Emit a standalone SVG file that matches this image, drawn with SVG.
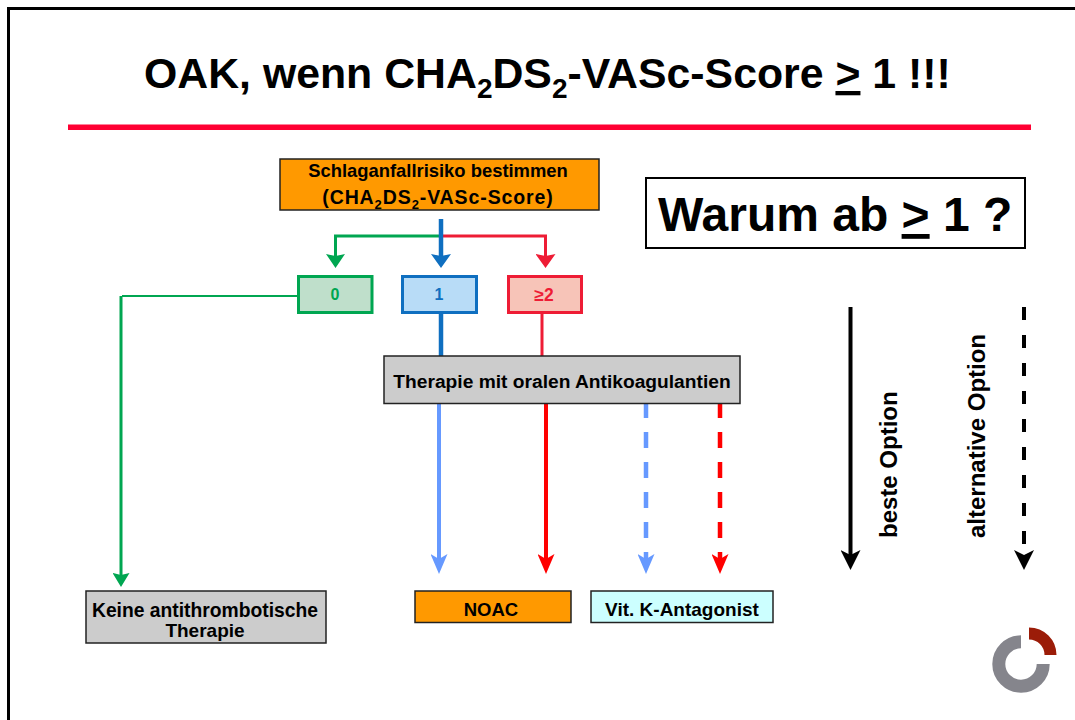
<svg xmlns="http://www.w3.org/2000/svg" width="1075" height="720" viewBox="0 0 1075 720">
<style>
text{font-family:"Liberation Sans",Arial,sans-serif;font-weight:700;fill:#000}
.m{text-anchor:middle}
.box{stroke:#222;stroke-width:1.5}
.l{fill:none;stroke-width:3}
.opt{font-size:24px}
</style>
<defs>
<path id="hd" d="M0 0L20 10L0 20L5 10Z"/>
<path id="hs" d="M0 0L20 10L0 20L3 10Z"/>
<marker id="hG1" viewBox="0 0 20 20" preserveAspectRatio="none" refX="10" refY="10" markerWidth="14" markerHeight="19" markerUnits="userSpaceOnUse" orient="auto"><use href="#hs" fill="#00a651"/></marker>
<marker id="hG2" viewBox="0 0 20 20" preserveAspectRatio="none" refX="10" refY="10" markerWidth="14" markerHeight="17" markerUnits="userSpaceOnUse" orient="auto"><use href="#hs" fill="#00a651"/></marker>
<marker id="hB" viewBox="0 0 20 20" preserveAspectRatio="none" refX="10" refY="10" markerWidth="14" markerHeight="20" markerUnits="userSpaceOnUse" orient="auto"><use href="#hs" fill="#0f6fc0"/></marker>
<marker id="hR" viewBox="0 0 20 20" preserveAspectRatio="none" refX="10" refY="10" markerWidth="14" markerHeight="20" markerUnits="userSpaceOnUse" orient="auto"><use href="#hs" fill="#ee1c35"/></marker>
<marker id="hL" viewBox="0 0 20 20" preserveAspectRatio="none" refX="10" refY="10" markerWidth="20" markerHeight="17" markerUnits="userSpaceOnUse" orient="auto"><use href="#hd" fill="#6699ff"/></marker>
<marker id="hP" viewBox="0 0 20 20" preserveAspectRatio="none" refX="10" refY="10" markerWidth="20" markerHeight="17" markerUnits="userSpaceOnUse" orient="auto"><use href="#hd" fill="#ff0000"/></marker>
<marker id="hK" viewBox="0 0 20 20" preserveAspectRatio="none" refX="10" refY="10" markerWidth="20" markerHeight="20" markerUnits="userSpaceOnUse" orient="auto"><use href="#hd" fill="#000"/></marker>
</defs>
<rect width="1075" height="720" fill="#fff"/>
<path d="M8.500 720V8.500H1075" fill="none" stroke="#000" stroke-width="3"/>
<rect x="68" y="124.500" width="963" height="5.500" fill="#ff0033"/>
<g id="title"><text x="144" y="88" font-size="42.800">OAK, wenn CHA<tspan font-size="28" dy="10">2</tspan><tspan dy="-10">DS</tspan><tspan font-size="28" dy="10">2</tspan><tspan dy="-10">-VASc-Score </tspan><tspan text-decoration="underline">&gt;</tspan> 1 !!!</text></g>
<g id="connectors">
<path d="M122 296H298" fill="none" stroke="#00a651" stroke-width="2"/>
<path class="l" d="M121 296V580" stroke="#00a651" marker-end="url(#hG2)"/>
<path class="l" d="M441 236H335.500V261" stroke="#00a651" marker-end="url(#hG1)"/>
<path class="l" d="M441 236H545.500V261" stroke="#ee1c35" marker-end="url(#hR)"/>
<path d="M441 219V261" fill="none" stroke="#0f6fc0" stroke-width="4.500" marker-end="url(#hB)"/>
<path d="M441 313V356" fill="none" stroke="#0f6fc0" stroke-width="4.500"/>
<path class="l" d="M542 313V356" stroke="#ee1c35"/>
<path d="M439 404V564" fill="none" stroke="#6699ff" stroke-width="4" marker-end="url(#hL)"/>
<path d="M546 404V564" fill="none" stroke="#ff0000" stroke-width="4" marker-end="url(#hP)"/>
<path d="M646 404V564" fill="none" stroke="#6699ff" stroke-width="4.500" stroke-dasharray="16 14" stroke-dashoffset="2" marker-end="url(#hL)"/>
<path d="M720 404V564" fill="none" stroke="#ff0000" stroke-width="4.500" stroke-dasharray="16 14" stroke-dashoffset="2" marker-end="url(#hP)"/>
<path d="M850.500 307V560" fill="none" stroke="#000" stroke-width="4" marker-end="url(#hK)"/>
<path d="M1024 307V560" fill="none" stroke="#000" stroke-width="4" stroke-dasharray="13 15" marker-end="url(#hK)"/>
</g>
<g id="n-start"><rect class="box" x="280" y="159" width="319" height="51" fill="#ff9900"/>
<text class="m" x="438" y="177" font-size="18.400">Schlaganfallrisiko bestimmen</text>
<text class="m" x="438" y="204" font-size="19.500" letter-spacing=".9">(CHA<tspan font-size="13" dy="5">2</tspan><tspan dy="-5">DS</tspan><tspan font-size="13" dy="5">2</tspan><tspan dy="-5">-VASc-Score)</tspan></text></g>
<g id="n-warum"><rect x="646" y="178" width="379" height="70" fill="#fff" stroke="#000" stroke-width="2"/>
<text x="658" y="231" font-size="48">Warum ab <tspan text-decoration="underline">&gt;</tspan> 1 ?</text></g>
<g id="n-0"><rect x="298.500" y="276.500" width="73.500" height="36" fill="#bfdfcb" stroke="#00a651" stroke-width="3"/><text class="m" x="335" y="300" font-size="16" style="fill:#00a651">0</text></g>
<g id="n-1"><rect x="402.500" y="276.500" width="74" height="36" fill="#b8dcf7" stroke="#0f6fc0" stroke-width="3"/><text class="m" x="439" y="300" font-size="16" style="fill:#0f6fc0">1</text></g>
<g id="n-2"><rect x="508.500" y="276.500" width="73" height="36" fill="#f7c4b8" stroke="#ee1c35" stroke-width="3"/><text class="m" x="544" y="301" font-size="17.500" style="fill:#ee1c35">≥2</text></g>
<g id="n-therapie"><rect class="box" x="384" y="356" width="356" height="47.500" fill="#cccccc"/><text class="m" x="562" y="388" font-size="19.200">Therapie mit oralen Antikoagulantien</text></g>
<g id="n-keine"><rect class="box" x="86" y="591" width="240" height="52" fill="#cccccc"/>
<text class="m" x="205" y="617" font-size="19.300">Keine antithrombotische</text><text class="m" x="205" y="637" font-size="19">Therapie</text></g>
<g id="n-noac"><rect class="box" x="415" y="591" width="156" height="31.500" fill="#ff9900"/><text class="m" x="491" y="616" font-size="18.500">NOAC</text></g>
<g id="n-vka"><rect class="box" x="591" y="591" width="182" height="31.500" fill="#ccffff"/><text class="m" x="682" y="616" font-size="19">Vit. K-Antagonist</text></g>
<g id="lbl-beste"><text class="opt" transform="translate(897 538) rotate(-90)">beste Option</text></g>
<g id="lbl-alt"><text class="opt" transform="translate(985 538) rotate(-90)">alternative Option</text></g>
<g id="logo">
<path d="M1021 641.800A22.200 22.200 0 1 0 1043.200 664" fill="none" stroke="#85858c" stroke-width="13"/>
<path d="M1029 633.500A21.500 21.500 0 0 1 1050.500 655" fill="none" stroke="#9b1c08" stroke-width="12"/>
</g>
</svg>
